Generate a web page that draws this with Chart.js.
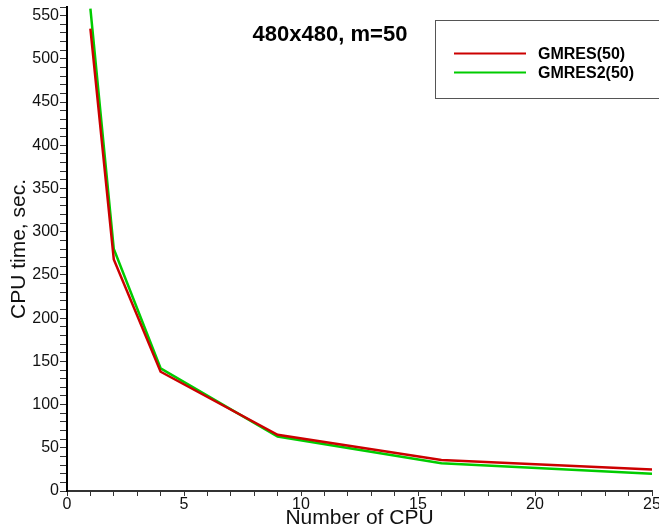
<!DOCTYPE html>
<html>
<head>
<meta charset="utf-8">
<script src="https://cdn.jsdelivr.net/npm/chart.js@4/dist/chart.umd.min.js"></script>
<style>
  html, body { margin: 0; padding: 0; background: #fff; }
  #wrap { width: 659px; height: 531px; position: relative; }
</style>
</head>
<body>
<div id="wrap"><canvas id="cpuChart" width="659" height="531"></canvas></div>
<script>
"use strict";

// ---- data ----
const cpuCounts = [1, 2, 4, 9, 16, 25];
const gmresTimes = [535, 268, 138, 65, 36, 25];
const gmres2Times = [558, 280, 142, 63, 32, 20];
const seriesLabels = ["GMRES(50)", "GMRES2(50)"];
const seriesColors = ["#cc0000", "#00cc00"];
const chartTitle = "480x480, m=50";

const FONT = "'Liberation Sans', Arial, sans-serif";

// title + boxed legend drawn over the plot
const overlayPlugin = {
  id: "overlay",
  afterDraw(chart) {
    const ctx = chart.ctx;
    ctx.save();
    ctx.fillStyle = "#000";
    ctx.font = "bold 22px " + FONT;
    ctx.textAlign = "center";
    ctx.textBaseline = "middle";
    ctx.fillText(chartTitle, 330, 35);

    ctx.fillStyle = "#fff";
    ctx.fillRect(435, 20, 230, 78);
    ctx.strokeStyle = "#555";
    ctx.lineWidth = 1;
    ctx.strokeRect(435.5, 20.5, 230, 78);

    ctx.font = "bold 16px " + FONT;
    ctx.textAlign = "left";
    chart.data.datasets.forEach((ds, i) => {
      const y = 53.5 + i * 19;
      ctx.strokeStyle = ds.borderColor;
      ctx.lineWidth = 2;
      ctx.beginPath();
      ctx.moveTo(454, y);
      ctx.lineTo(526, y);
      ctx.stroke();
      ctx.fillStyle = "#000";
      ctx.fillText(ds.label, 538, y + 1);
    });
    ctx.restore();
  }
};

new Chart(document.getElementById("cpuChart"), {
  type: "line",
  data: {
    datasets: [
      {
        label: seriesLabels[0],
        data: cpuCounts.map((x, i) => ({ x, y: gmresTimes[i] })),
        borderColor: seriesColors[0], borderWidth: 2.5, pointRadius: 0, tension: 0
      },
      {
        label: seriesLabels[1],
        data: cpuCounts.map((x, i) => ({ x, y: gmres2Times[i] })),
        borderColor: seriesColors[1], borderWidth: 2.5, pointRadius: 0, tension: 0
      }
    ]
  },
  options: {
    responsive: false,
    animation: false,
    layout: { padding: { top: 7, right: 7, left: 0, bottom: 0 } },
    plugins: { legend: { display: false }, tooltip: { enabled: false } },
    scales: {
      x: {
        type: "linear", min: 0, max: 25,
        border: { color: "#333", width: 2 },
        grid: { drawOnChartArea: false, drawTicks: true, tickLength: 5, color: "#333" },
        ticks: {
          stepSize: 1, autoSkip: false, maxRotation: 0, padding: -1,
          color: "#111", font: { family: FONT, size: 16 },
          callback: v => (v % 5 === 0 ? v : "")
        },
        title: { display: true, text: "Number of CPU", color: "#111", padding: 0, font: { family: FONT, size: 21 } },
        afterFit(scale) { scale.height = 40; scale.paddingLeft = 0; scale.paddingRight = 0; }
      },
      y: {
        type: "linear", min: 0, max: 560,
        border: { color: "#000", width: 2 },
        grid: { drawOnChartArea: false, drawTicks: true, tickLength: 7, color: "#333" },
        ticks: {
          stepSize: 10, autoSkip: false, padding: 1,
          color: "#111", font: { family: FONT, size: 16 },
          callback: v => (v % 50 === 0 ? v : "")
        },
        title: { display: true, text: "CPU time, sec.", color: "#111", padding: { top: 7, bottom: 2 }, font: { family: FONT, size: 21 } },
        afterFit(scale) { scale.width = 67; scale.paddingTop = 0; scale.paddingBottom = 0; }
      }
    }
  },
  plugins: [overlayPlugin]
});
</script>
</body>
</html>
